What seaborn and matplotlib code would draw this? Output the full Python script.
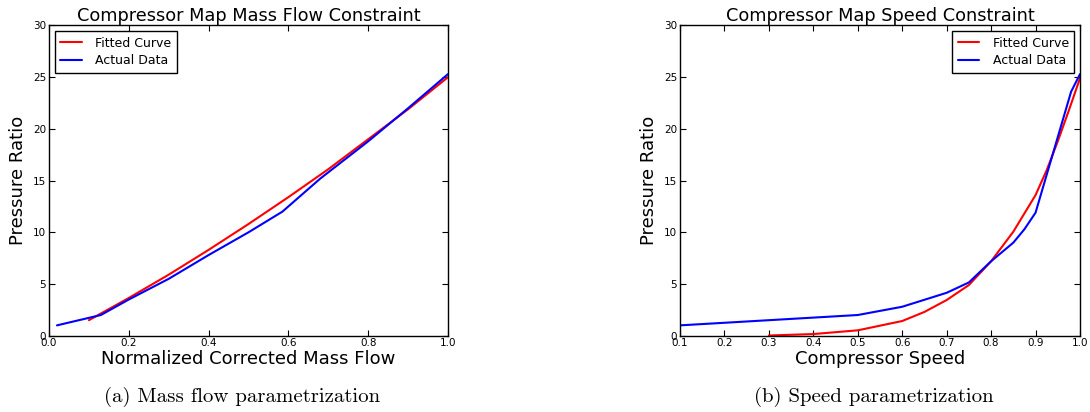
import matplotlib
matplotlib.use("Agg")
import matplotlib.pyplot as plt
import seaborn as sns
import pandas as pd

# ---- data ----
mf_fit_x = [0.1, 0.2, 0.3, 0.4, 0.5, 0.6, 0.7, 0.8, 0.9, 1.0]
mf_fit_y = [1.5, 3.65, 5.9, 8.3, 10.8, 13.4, 16.1, 19.0, 21.9, 25.0]
mf_act_x = [0.02, 0.13, 0.2, 0.3, 0.4, 0.5, 0.585, 0.68, 0.8, 0.9, 1.0]
mf_act_y = [1.0, 2.0, 3.5, 5.5, 7.8, 10.0, 12.0, 15.2, 18.8, 22.0, 25.3]

sp_fit_x = [0.3, 0.4, 0.5, 0.6, 0.65, 0.7, 0.75, 0.8, 0.85, 0.9, 0.925, 0.95, 0.975, 1.0]
sp_fit_y = [0.02, 0.16, 0.52, 1.42, 2.3, 3.45, 4.9, 7.2, 10.06, 13.6, 16.0, 18.8, 21.8, 24.9]
sp_act_x = [0.1, 0.5, 0.6, 0.7, 0.75, 0.8, 0.85, 0.875, 0.9, 0.98, 1.0]
sp_act_y = [1.0, 2.0, 2.8, 4.15, 5.15, 7.2, 9.0, 10.3, 11.9, 23.6, 25.3]

titles = ["Compressor Map Mass Flow Constraint", "Compressor Map Speed Constraint"]
xlabels = ["Normalized Corrected Mass Flow", "Compressor Speed"]
ylabel = "Pressure Ratio"
captions = ["(a) Mass flow parametrization", "(b) Speed parametrization"]
series_names = ["Fitted Curve", "Actual Data"]

sns.set_style("ticks")
plt.rcParams["font.family"] = ["DejaVu Sans"]
plt.rcParams.update({
    "xtick.direction": "in", "ytick.direction": "in",
    "xtick.top": True, "ytick.right": True,
    "xtick.major.size": 4, "ytick.major.size": 4,
    "axes.edgecolor": "black", "axes.linewidth": 1.0,
    "xtick.color": "black", "ytick.color": "black",
    "text.color": "black", "axes.labelcolor": "black",
})

fig = plt.figure(figsize=(10.9, 4.12), dpi=100)
ax1 = fig.add_axes([49 / 1090, 1 - 335.7 / 412, 399 / 1090, 310.2 / 412])
ax2 = fig.add_axes([680 / 1090, 1 - 335.7 / 412, 400 / 1090, 310.2 / 412])

panels = [
    (ax1, mf_fit_x, mf_fit_y, mf_act_x, mf_act_y, (0.0, 1.0), [0.0, 0.2, 0.4, 0.6, 0.8, 1.0], "upper left"),
    (ax2, sp_fit_x, sp_fit_y, sp_act_x, sp_act_y, (0.1, 1.0), [0.1, 0.2, 0.3, 0.4, 0.5, 0.6, 0.7, 0.8, 0.9, 1.0], "upper right"),
]

for i, (ax, fx, fy, axx, ayy, xlim, xticks, loc) in enumerate(panels):
    sns.lineplot(x=fx, y=fy, ax=ax, color="red", lw=1.5, label=series_names[0],
                 estimator=None, sort=False)
    sns.lineplot(x=axx, y=ayy, ax=ax, color="blue", lw=1.5, label=series_names[1],
                 estimator=None, sort=False)
    ax.set_xlim(*xlim)
    ax.set_ylim(0, 30)
    ax.set_xticks(xticks)
    ax.set_xticklabels([f"{t:.1f}" for t in xticks])
    ax.set_yticks([0, 5, 10, 15, 20, 25, 30])
    ax.tick_params(labelsize=7.5, pad=2, width=0.8)
    ax.set_title(titles[i], fontsize=12.8, pad=2)
    ax.set_xlabel(xlabels[i], fontsize=13, labelpad=1)
    ax.set_ylabel(ylabel, fontsize=13, labelpad=4)
    for s in ax.spines.values():
        s.set_visible(True)
        s.set_color("black")
    leg = ax.legend(loc=loc, fontsize=9, frameon=True, fancybox=False,
                    edgecolor="black", framealpha=1, handlelength=1.7,
                    handletextpad=1.1, borderaxespad=0.45, borderpad=0.45,
                    labelspacing=0.35)
    leg.get_frame().set_linewidth(1.0)

fig.text(242 / 1090, 1 - 397 / 412, captions[0], ha="center", va="center",
         fontsize=15, family="cmr10")
fig.text(874 / 1090, 1 - 397 / 412, captions[1], ha="center", va="center",
         fontsize=15, family="cmr10")

fig.savefig("out.png", dpi=100)
